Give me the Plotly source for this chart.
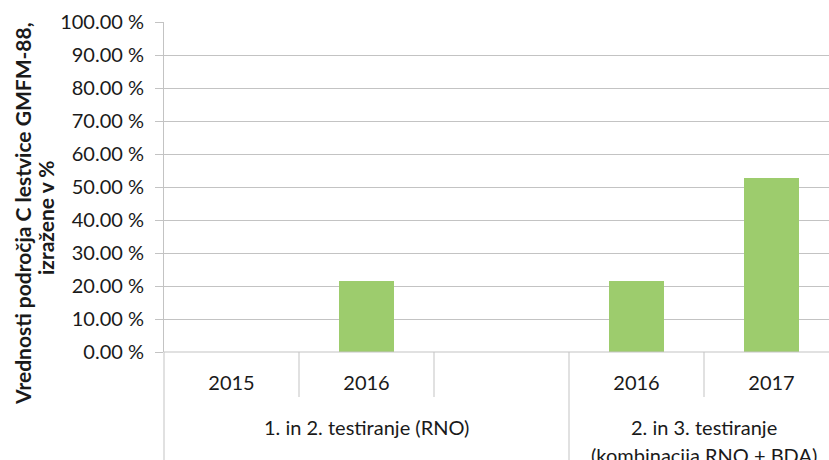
import plotly.graph_objects as go

# ---- data ----
groups = [["1. in 2. testiranje (RNO)"], ["2. in 3. testiranje", "(kombinacija RNO + BDA)"]]
group_members = [[0, 1, 2], [3, 4]]
year_labels = ["2015", "2016", "", "2016", "2017"]
values = [0.0, 21.4, None, 21.4, 52.8]
y_ticks = [0, 10, 20, 30, 40, 50, 60, 70, 80, 90, 100]
y_tick_labels = [f"{v:.2f} %" for v in y_ticks]
y_title_lines = ["Vrednosti področja C lestvice GMFM-88,", "izražene v %"]

FONT = "Lato"
TXT = "#1a1a1a"
GRID = "#c3c3c3"
BAR = "#9dcc6d"

idx = list(range(len(year_labels)))

fig = go.Figure()
fig.add_trace(go.Bar(
    x=idx, y=values, width=0.41,
    marker=dict(color=BAR, line=dict(width=0)),
    showlegend=False, hoverinfo="skip",
))

W, H = 829, 460
ML, MR, MT, MB = 164, 0, 22, 108
cat_px = 135.0
x_lo = -0.5
x_hi = x_lo + (W - ML - MR) / cat_px
plot_w = W - ML - MR
plot_h = H - MT - MB
y0_px = H - MB  # pixel row of 0 %

fig.update_layout(
    width=W, height=H,
    margin=dict(l=ML, r=MR, t=MT, b=MB, autoexpand=False),
    paper_bgcolor="white", plot_bgcolor="white",
    font=dict(family=FONT, size=20, color=TXT),
    bargap=0,
    xaxis=dict(
        range=[x_lo, x_hi],
        tickmode="array", tickvals=idx, ticktext=year_labels,
        showgrid=False, zeroline=False, showline=False,
        ticks="", ticklabelstandoff=17,
        tickfont=dict(family=FONT, size=20, color=TXT),
    ),
    yaxis=dict(
        range=[0, 100], tickmode="array", tickvals=y_ticks, ticktext=y_tick_labels,
        showgrid=True, gridcolor=GRID, gridwidth=1,
        zeroline=False,
        showline=True, linecolor=GRID, linewidth=1,
        ticks="outside", ticklen=8, tickcolor=GRID, tickwidth=1,
        ticklabelstandoff=7,
        tickfont=dict(family=FONT, size=20, color=TXT),
    ),
)

bottom_paper = -MB / plot_h
fig.add_shape(type="line", xref="paper", yref="paper", x0=0, x1=0,
              y0=0, y1=bottom_paper, line=dict(color=GRID, width=1))
fig.add_shape(type="line", xref="paper", yref="paper", x0=0, x1=1,
              y0=0, y1=0, line=dict(color=GRID, width=1))

short_len = -45 / plot_h
for g, members in enumerate(group_members):
    for a, b in zip(members[:-1], members[1:]):
        fig.add_shape(type="line", xref="x", yref="paper", x0=(a + b) / 2, x1=(a + b) / 2,
                      y0=0, y1=short_len, line=dict(color=GRID, width=1))
    if g < len(group_members) - 1:
        xb = (members[-1] + group_members[g + 1][0]) / 2
        fig.add_shape(type="line", xref="x", yref="paper", x0=xb, x1=xb,
                      y0=0, y1=bottom_paper, line=dict(color=GRID, width=1))

# group labels (one annotation per line)
for lines, members in zip(groups, group_members):
    cx = (members[0] - 0.5 + members[-1] + 0.5) / 2
    for i, line in enumerate(lines):
        ypx = 427 + 28 * i
        fig.add_annotation(x=cx, xref="x", y=-(ypx - y0_px) / plot_h, yref="paper",
                           text=line, showarrow=False, xanchor="center", yanchor="middle",
                           font=dict(family=FONT, size=20, color=TXT))

# y-axis title (two rotated lines)
for i, line in enumerate(y_title_lines):
    xpx = 22 + 24 * i
    ypx = 214 + 3 * i
    fig.add_annotation(x=(xpx - ML) / plot_w, xref="paper",
                       y=(y0_px - ypx) / plot_h, yref="paper",
                       text="<b>" + line + "</b>", textangle=-90, showarrow=False,
                       xanchor="center", yanchor="middle",
                       font=dict(family=FONT, size=21, color=TXT))

fig.write_html("out.html", config={"displayModeBar": False},
               post_script="document.body.style.margin='0';document.body.style.padding='0';")
